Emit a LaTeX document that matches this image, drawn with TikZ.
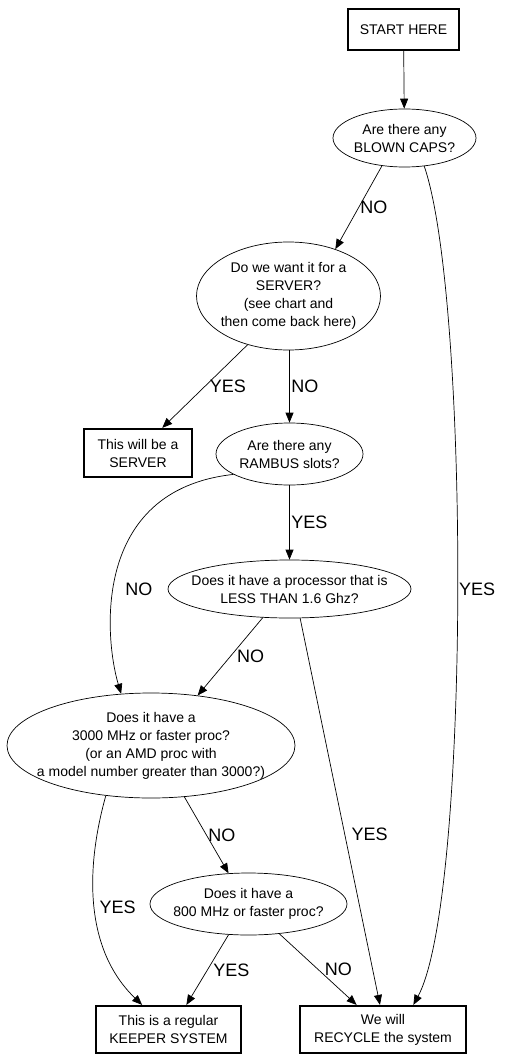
\documentclass[tikz,border=0pt]{standalone}
\usepackage{fontspec}
\setmainfont{Liberation Sans}
\usetikzlibrary{shapes.geometric, arrows.meta}

\begin{document}
\begin{tikzpicture}[
    x=1pt, y=-1pt,
    outcome/.style={draw, line width=2.2pt, align=center, font=\fontsize{14}{18}\selectfont, inner sep=0pt},
    question/.style={draw, ellipse, line width=0.7pt, align=center, font=\fontsize{14}{18}\selectfont, inner xsep=-80pt, inner ysep=-40pt},
    arrow/.style={-{Triangle[length=10pt, width=8pt]}, line width=0.7pt},
    answer/.style={font=\fontsize{18}{20}\selectfont, inner sep=1.5pt, anchor=west}
]
\useasboundingbox (0,0) rectangle (504,1059);

\node[outcome, minimum width=111pt, minimum height=41pt] (start) at (403.5,29.5) {START HERE};
\node[question, minimum width=143pt, minimum height=58pt] (caps) at (404.5,138) {Are there any\\BLOWN CAPS?};
\node[question, minimum width=184pt, minimum height=108pt] (server) at (288.5,296) {Do we want it for a\\SERVER?\\(see chart and\\then come back here)};
\node[outcome, minimum width=108pt, minimum height=48pt] (serverbox) at (138,453) {This will be a\\SERVER};
\node[question, minimum width=147pt, minimum height=62pt] (rambus) at (289.5,454) {Are there any\\RAMBUS slots?};
\node[question, minimum width=243pt, minimum height=58pt] (slowproc) at (289.5,589) {Does it have a processor that is\\LESS THAN 1.6 Ghz?};
\node[question, minimum width=288pt, minimum height=105pt] (fastproc) at (151,745.5) {Does it have a\\3000 MHz or faster proc?\\(or an AMD proc with\\a model number greater than 3000?)};
\node[question, minimum width=197pt, minimum height=62pt] (midproc) at (248.5,904) {Does it have a\\800 MHz or faster proc?};
\node[outcome, minimum width=145pt, minimum height=47pt] (keeper) at (168.5,1029.5) {This is a regular\\KEEPER SYSTEM};
\node[outcome, minimum width=166pt, minimum height=47pt] (recycle) at (383,1029.5) {We will\\RECYCLE the system};

% Arrows
\draw[arrow] (start) -- (caps);
\draw[arrow] (caps.231) -- node[answer] {NO} (server.45);
\draw[arrow] (caps.305) .. controls (470,300) and (470,900) .. node[answer, pos=0.493] {YES} (recycle.39);
\draw[arrow] (server.230) -- node[answer, xshift=3pt] {YES} (serverbox.46);
\draw[arrow] (server.south -| rambus.north) -- node[answer] {NO} (rambus.north);
\draw[arrow] (rambus) -- node[answer] {YES} (slowproc);
\draw[arrow] (rambus.200) .. controls (90,490) and (105,640) .. node[answer, pos=0.57, xshift=10pt] {NO} (fastproc.120);
\draw[arrow] (slowproc.227) -- node[answer, xshift=5pt] {NO} (fastproc.47);
\draw[arrow] (slowproc.290) -- node[answer, pos=0.56, xshift=5pt] {YES} (recycle.97);
\draw[arrow] (fastproc.303) -- node[answer] {NO} (midproc.123);
\draw[arrow] (fastproc.228) .. controls (85,870) and (85,950) .. node[answer, xshift=3pt] {YES} (keeper.137);
\draw[arrow] (midproc.237) -- node[answer, xshift=4pt] {YES} (keeper.54);
\draw[arrow] (midproc.316) -- node[answer, xshift=5pt] {NO} (recycle.137);

\end{tikzpicture}
\end{document}
